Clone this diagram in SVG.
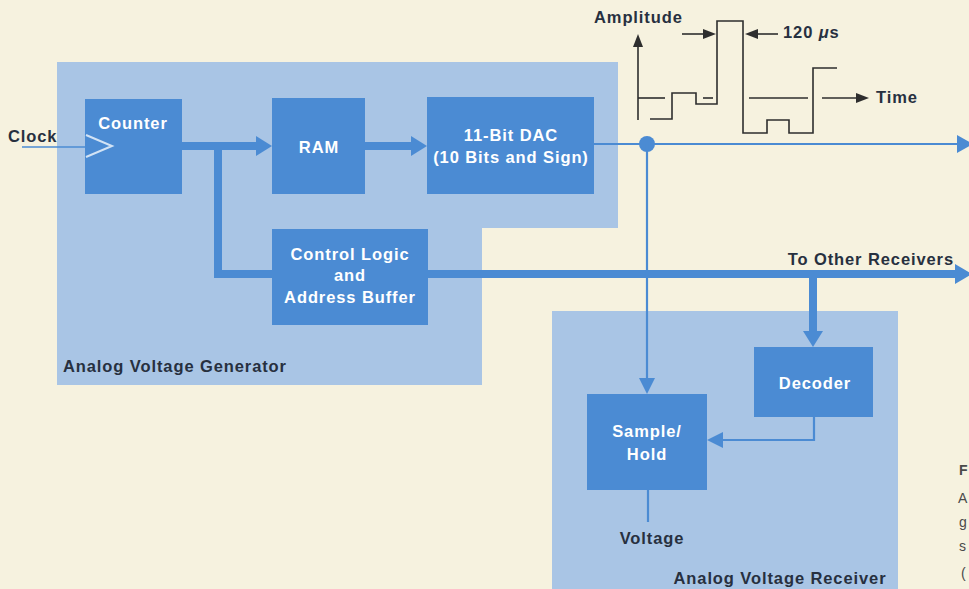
<svg xmlns="http://www.w3.org/2000/svg" width="969" height="589" viewBox="0 0 969 589">
<style>
.panel{fill:#a9c5e5}
.box{fill:#4b8bd3}
.lbl{font-family:"Liberation Sans",Arial,sans-serif;font-weight:bold;font-size:16.5px;letter-spacing:0.9px;fill:#ffffff;text-anchor:middle}
.dark{font-family:"Liberation Sans",Arial,sans-serif;font-weight:bold;font-size:16.5px;letter-spacing:0.9px;fill:#27303f}
.thick{stroke:#4b8bd3;stroke-width:8;fill:none}
.thin{stroke:#4b8bd3;stroke-width:2.2;fill:none}
.head{fill:#4b8bd3}
.wave{stroke:#2e2e2e;stroke-width:1.6;fill:none}
.cap{font-family:"Liberation Sans",Arial,sans-serif;font-size:14px;fill:#4a4a4a}
</style>
<rect x="0" y="0" width="969" height="589" fill="#f6f2df"/>

<g id="generator-panel">
<path class="panel" d="M57,62 H618 V228 H482 V385 H57 Z"/>
<text class="dark" x="63" y="372">Analog Voltage Generator</text>
</g>
<g id="receiver-panel">
<rect class="panel" x="552" y="311" width="346" height="280"/>
<text class="dark" x="780" y="584" text-anchor="middle">Analog Voltage Receiver</text>
</g>

<g id="counter">
<rect class="box" x="85" y="99" width="97" height="95"/>
<text class="lbl" x="133" y="129">Counter</text>
<polyline points="86,135 112,146 86,157" fill="none" stroke="#d2e3f5" stroke-width="2"/>
</g>
<g id="ram">
<rect class="box" x="272" y="98" width="93" height="96"/>
<text class="lbl" x="319" y="153">RAM</text>
</g>
<g id="dac">
<rect class="box" x="427" y="97" width="167" height="97"/>
<text class="lbl" x="511" y="141">11-Bit DAC</text>
<text class="lbl" x="511" y="163">(10 Bits and Sign)</text>
</g>
<g id="control">
<rect class="box" x="272" y="229" width="156" height="96"/>
<text class="lbl" x="350" y="260">Control Logic</text>
<text class="lbl" x="350" y="281">and</text>
<text class="lbl" x="350" y="303">Address Buffer</text>
</g>
<g id="decoder">
<rect class="box" x="754" y="347" width="119" height="70"/>
<text class="lbl" x="815" y="389">Decoder</text>
</g>
<g id="samplehold">
<rect class="box" x="587" y="394" width="120" height="96"/>
<text class="lbl" x="647" y="437">Sample/</text>
<text class="lbl" x="647" y="460">Hold</text>
</g>

<g id="connectors">
<line x1="22" y1="147" x2="87" y2="147" stroke="#4b8bd3" stroke-width="1.6"/>
<line class="thick" x1="181" y1="146" x2="258" y2="146"/>
<polygon class="head" points="256,136 272,146 256,156"/>
<path class="thick" d="M218,146 V274 H273"/>
<line class="thick" x1="365" y1="146" x2="413" y2="146"/>
<polygon class="head" points="411,136 427,146 411,156"/>
<line class="thick" x1="427" y1="274" x2="958" y2="274"/>
<polygon class="head" points="955,264 972,274 955,284"/>
<line class="thick" x1="813" y1="274" x2="813" y2="333"/>
<polygon class="head" points="803,331 813,347 823,331"/>
<line class="thin" x1="594" y1="144" x2="960" y2="144"/>
<polygon class="head" points="957,135 973,144 957,153"/>
<circle class="head" cx="647" cy="144" r="8"/>
<line class="thin" x1="647" y1="144" x2="647" y2="380"/>
<polygon class="head" points="639,378 647,394 655,378"/>
<path class="thin" d="M814,417 V440 H720"/>
<polygon class="head" points="723,432 707,440 723,448"/>
<line class="thin" x1="648" y1="490" x2="648" y2="522"/>
</g>

<g id="labels">
<text class="dark" x="8" y="142">Clock</text>
<text class="dark" x="954" y="265" text-anchor="end">To Other Receivers</text>
<text class="dark" x="652" y="544" text-anchor="middle">Voltage</text>
</g>

<g id="waveform">
<line class="wave" x1="638" y1="120" x2="638" y2="44"/>
<polygon points="633,47 638,34 643,47" fill="#2e2e2e"/>
<line class="wave" x1="638" y1="98" x2="665" y2="98"/>
<polyline class="wave" points="650,119 672,119 672,93 696,93 696,104 717,104 717,21 743,21 743,133 767,133 767,120 789,120 789,133 813,133 813,68 837,68"/>
<line class="wave" x1="703" y1="98" x2="713" y2="98"/>
<line class="wave" x1="749" y1="98" x2="808" y2="98"/>
<line class="wave" x1="822" y1="98" x2="858" y2="98"/>
<polygon points="856,93 869,98 856,103" fill="#2e2e2e"/>
<line class="wave" x1="682" y1="34" x2="705" y2="34"/>
<polygon points="703,29 716,34 703,39" fill="#2e2e2e"/>
<line class="wave" x1="778" y1="34" x2="756" y2="34"/>
<polygon points="758,29 745,34 758,39" fill="#2e2e2e"/>
<text class="dark" x="594" y="23">Amplitude</text>
<text class="dark" x="783" y="38">120 <tspan font-style="italic">μ</tspan>s</text>
<text class="dark" x="876" y="103">Time</text>
</g>

<g id="caption-edge">
<text class="cap" x="959" y="475" font-weight="bold">F</text>
<text class="cap" x="958" y="503">A</text>
<text class="cap" x="959" y="527">g</text>
<text class="cap" x="959" y="551">s</text>
<text class="cap" x="961" y="578">(</text>
</g>
</svg>
